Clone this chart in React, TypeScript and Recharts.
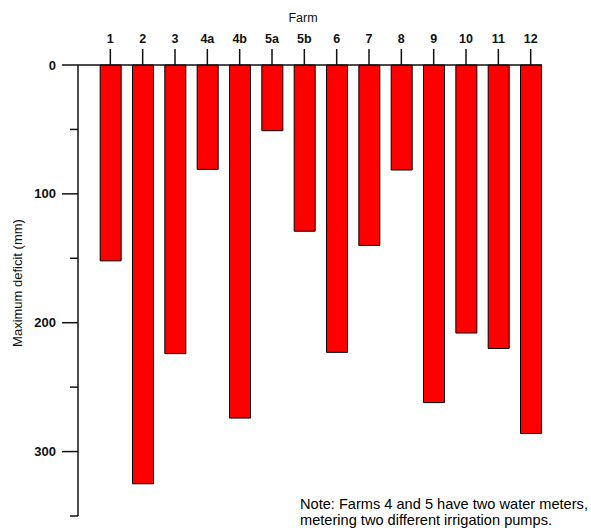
import { Bar, BarChart, XAxis, YAxis } from "recharts";

// Farm meters along the top, maximum soil-water deficit (mm) hanging down
const farms = ["1", "2", "3", "4a", "4b", "5a", "5b", "6", "7", "8", "9", "10", "11", "12"];
const maxDeficit = [152, 325, 224, 81, 274, 51, 129, 223, 140, 81.5, 262, 208, 220, 286];
const deficitTicks = [0, 50, 100, 150, 200, 250, 300, 350];
const labelledTicks = [0, 100, 200, 300];

const data = farms.map((farm, idx) => ({ idx, farm, deficit: maxDeficit[idx] }));

const FONT = "Arial, 'Liberation Sans', Helvetica, sans-serif";
const INK = "#111";

function DeficitTick(props: any) {
  const { x, y, payload } = props;
  const major = labelledTicks.includes(payload.value);
  const len = major ? 16 : 8;
  return (
    <g>
      <line x1={x - len} y1={y} x2={x} y2={y} stroke={INK} strokeWidth={1.5} />
      {major && (
        <text
          x={x - 22}
          y={y}
          dy={4.5}
          textAnchor="end"
          fontSize={13}
          fontWeight="bold"
          fontFamily={FONT}
          fill={INK}
        >
          {payload.value}
        </text>
      )}
    </g>
  );
}

export default function App() {
  return (
    <div style={{ position: "absolute", left: 0, top: 0, width: 591, height: 528, background: "#fff" }}>
      <BarChart
        width={591}
        height={528}
        data={data}
        margin={{ top: 0, right: 49, bottom: 12, left: 0 }}
      >
        <XAxis
          xAxisId="farm"
          dataKey="idx"
          type="number"
          orientation="top"
          domain={[-1, 13.35]}
          ticks={data.map((d) => d.idx)}
          tickFormatter={(i: number) => farms[i]}
          height={65}
          tickSize={16}
          tickMargin={6}
          tick={{ fontSize: 12.5, fontWeight: "bold", fontFamily: FONT, fill: INK }}
          tickLine={{ stroke: INK, strokeWidth: 1.5 }}
          axisLine={{ stroke: INK, strokeWidth: 1.5 }}
          label={{
            content: ({ viewBox }: any) => (
              <text
                x={viewBox.x + viewBox.width / 2 - 7}
                y={viewBox.y + 22}
                textAnchor="middle"
                fontSize={12.5}
                fontFamily={FONT}
                fill={INK}
              >
                Farm
              </text>
            ),
          }}
        />
        <YAxis
          yAxisId="deficit"
          type="number"
          reversed
          domain={[0, 350]}
          ticks={deficitTicks}
          interval={0}
          width={78}
          tickSize={0}
          tickMargin={0}
          tickLine={false}
          tick={<DeficitTick />}
          axisLine={{ stroke: INK, strokeWidth: 1.5 }}
          label={{
            content: ({ viewBox }: any) => (
              <text
                x={viewBox.x + 19}
                y={283}
                transform={`rotate(-90 ${viewBox.x + 19} 283)`}
                textAnchor="middle"
                dominantBaseline="middle"
                fontSize={13}
                fontFamily={FONT}
                fill={INK}
              >
                Maximum deficit (mm)
              </text>
            ),
          }}
        />
        <Bar
          xAxisId="farm"
          yAxisId="deficit"
          dataKey="deficit"
          barSize={21}
          fill="#ff0000"
          stroke="#000"
          strokeWidth={1}
          isAnimationActive={false}
        />
      </BarChart>
      <div
        style={{
          position: "absolute",
          left: 300,
          top: 497,
          fontFamily: FONT,
          fontSize: 14.6,
          lineHeight: "15.5px",
          color: "#000",
          whiteSpace: "nowrap",
        }}
      >
        Note: Farms 4 and 5 have two water meters,
        <br />
        metering two different irrigation pumps.
      </div>
    </div>
  );
}
